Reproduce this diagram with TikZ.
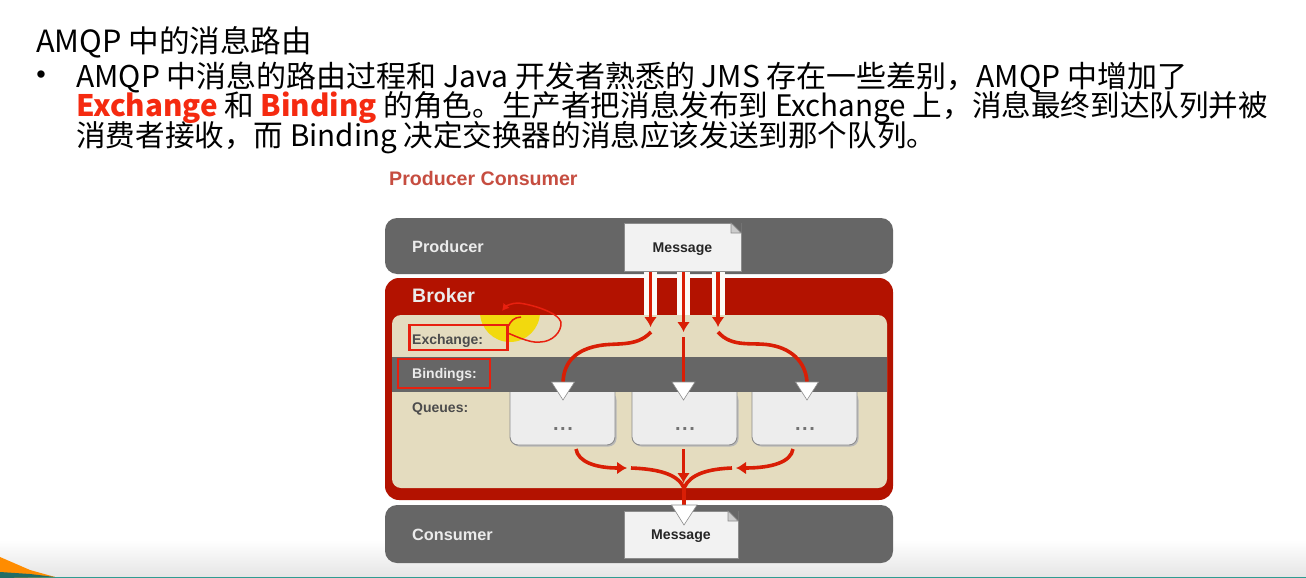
\documentclass[tikz,border=0pt]{standalone}
\usepackage{fontspec}
\usepackage{xcolor}
\setmainfont{Liberation Sans}
\newfontfamily\cjk{Noto Sans CJK SC}
\usetikzlibrary{arrows.meta,calc}
\definecolor{bandgrey}{HTML}{666666}
\definecolor{brokerred}{HTML}{B31200}
\definecolor{brokertan}{HTML}{E4DCBF}
\definecolor{flowred}{HTML}{D91E05}
\definecolor{notered}{HTML}{E8200F}
\definecolor{slidered}{HTML}{F52A10}
\definecolor{floorteal}{HTML}{2F9C92}
\begin{document}
\begin{tikzpicture}
    [x=1pt,y=-1pt,
    band/.style={fill=bandgrey,rounded corners=12pt,minimum width=508pt,minimum height=56pt,inner sep=0pt},
    bandtext/.style={anchor=west,text=white!92!black,font=\bfseries\fontsize{16.3}{18}\selectfont,inner sep=0pt},
    sidetext/.style={anchor=west,text=black!70,font=\bfseries\fontsize{14}{16}\selectfont,inner sep=0pt},
    msgbox/.style={fill=black!5,draw=black!45,line width=0.8pt,inner sep=0pt,text height=10pt,text depth=0pt,font=\bfseries\fontsize{14.1}{16}\selectfont,text=black!85},
    slideline/.style={anchor=west,inner sep=0pt,font=\cjk\fontsize{29.6}{32}\selectfont},
    flow/.style={draw=flowred,line width=3.6pt},
    flowcase/.style={draw=white!88!brokertan,line width=13pt},
    flowtip/.style={-{Latex[length=10pt,width=13pt]},flowred,line width=3.6pt},
    whitetip/.style={fill=white,draw=black!45,line width=0.6pt},
    queuebox/.style={fill=black!7,draw=black!45,line width=0.9pt,rounded corners=8pt},
    notebox/.style={draw=notered,line width=2.2pt},
    scribble/.style={draw=notered,line width=1.5pt,line join=round}]

\useasboundingbox (0,0) rectangle (1306,578);

%slide floor
\fill[white] (0,0) rectangle (1306,578);
\shade[top color=white,bottom color=black!10] (0,540) rectangle (1306,576.5);
\fill[floorteal] (0,576.5) rectangle (1306,578);
\fill[orange!90!yellow] (0,557) -- (30,570) -- (55,577) -- (0,578) -- cycle;
\fill[floorteal!70!black] (0,572) -- (30,574) -- (55,577) -- (0,578) -- cycle;

%slide text
\node[slideline,font=\cjk\fontsize{30.6}{32}\selectfont] (title) at (36,42) {AMQP 中的消息路由};
\node[anchor=center,inner sep=0pt,font=\fontsize{27}{28}\selectfont] (dot) at (41,77) {•};
\node[slideline,font=\cjk\fontsize{30}{32}\selectfont] (linea) at (76,77.5) {AMQP 中消息的路由过程和 Java 开发者熟悉的 JMS 存在一些差别，AMQP 中增加了};
\node[slideline] (lineb) at (76,108) {{\bfseries\color{slidered}Exchange} 和 {\bfseries\color{slidered}Binding} 的角色。生产者把消息发布到 Exchange 上，消息最终到达队列并被};
\node[slideline] (linec) at (76,138) {消费者接收，而 Binding 决定交换器的消息应该发送到那个队列。};
\node[anchor=west,inner sep=0pt,text=brokerred!75!white,font=\bfseries\fontsize{19.6}{22}\selectfont] (caption) at (389,178) {Producer Consumer};

%bands and broker
\node[band] (producer) at (639,246) {};
\node[band,minimum height=58pt] (consumer) at (639,534) {};
\node[fill=brokerred,rounded corners=14pt,minimum width=508pt,minimum height=222pt,inner sep=0pt] (broker) at (639,389) {};
\node[fill=brokertan,rounded corners=9pt,minimum width=495pt,minimum height=173pt,inner sep=0pt] (inner) at (639.5,401.5) {};

%yellow pointer
\begin{scope}
\clip (470,315) rectangle (550,350);
\fill[yellow!85!orange!95!black] (510,312) circle (30);
\end{scope}

\fill[bandgrey] (392,357) rectangle (887,392);

%queues
\foreach \x/\n in {510/qa,632/qb,752/qc}{
    \fill[black!28,rounded corners=8pt] (\x+1.5,392) -- (\x+1.5,446.5) -- (\x+106.5,446.5) -- (\x+106.5,392) -- cycle;
    \draw[queuebox] (\x,392) -- (\x,445) -- (\x+105,445) -- (\x+105,392);
    \node[inner sep=0pt,text=black!55,font=\bfseries\fontsize{20}{22}\selectfont] (\n) at (\x+53,429) {.\kern1.5pt.\kern1.5pt.};
}

%messages
\node[msgbox,minimum width=117pt,minimum height=48pt] (msgtop) at (682.5,247) {Message};
\fill[bandgrey] (741.5,222.5) -- (731,222.5) -- (741.5,233) -- cycle;
\draw[fill=black!20,draw=black!45,line width=0.6pt] (731,223) -- (731,233) -- (741,233) -- cycle;
\node[msgbox,minimum width=114pt,minimum height=47pt] (msgbot) at (681,534.5) {Message};
\fill[bandgrey] (738.5,510.5) -- (728,510.5) -- (738.5,521) -- cycle;
\draw[fill=black!20,draw=black!45,line width=0.6pt] (728,511) -- (728,521) -- (738,521) -- cycle;

%message flow into exchange
\coordinate (outa) at (650.5,272);
\coordinate (outb) at (683.5,272);
\coordinate (outc) at (718,272);
\coordinate (exa) at (650.5,327);
\coordinate (exb) at (683.5,332);
\coordinate (exc) at (718,327);
\coordinate (casea) at (650.5,315);
\coordinate (caseb) at (683.5,315);
\coordinate (casec) at (718,315);
\draw[flowcase] (outa) -- (casea);
\draw[flowcase] (outb) -- (caseb);
\draw[flowcase] (outc) -- (casec);
\draw[flowtip] (outa) -- (exa);
\draw[flowtip] (outb) -- (exb);
\draw[flowtip] (outc) -- (exc);

%exchange to queues
\coordinate (bia) at (563,384);
\coordinate (bib) at (683.5,384);
\coordinate (bic) at (807,384);
\draw[flow] (651,332) .. controls (636,348) and (615,342) .. (597,346) .. controls (572,351) and (563,366) .. (bia);
\draw[flow] (683.5,337) -- (bib);
\draw[flow] (718,332) .. controls (732,348) and (752,342) .. (770,345) .. controls (795,349) and (807,366) .. (bic);
\foreach \x in {563,683.5,807}
    \draw[whitetip] (\x-11.5,382) -- (\x+11.5,382) -- (\x,400) -- cycle;

%queues to consumer
\coordinate (hub) at (684,488);
\coordinate (qaout) at (576,449);
\coordinate (qbout) at (683.5,449);
\coordinate (qcout) at (793,449);
\coordinate (qatip) at (627,468);
\coordinate (qbtip) at (683.5,483);
\coordinate (qctip) at (736,468);
\draw[flowtip] (qaout) .. controls (578,462) and (596,468) .. (qatip);
\draw[flowtip] (qbout) -- (qbtip);
\draw[flowtip] (qcout) .. controls (791,462) and (772,468) .. (qctip);
\draw[flow] (631,468) .. controls (658,469) and (678,474) .. (hub);
\draw[flow] (732,468) .. controls (708,469) and (690,474) .. (hub);
\coordinate (bottip) at (684,510);
\draw[flow] (hub) -- (bottip);
\draw[whitetip] (671.5,505) -- (697,505) -- (684,525) -- cycle;

%labels
\node[bandtext] (producerlabel) at (412,247) {Producer};
\node[bandtext,font=\bfseries\fontsize{19.5}{22}\selectfont] (brokerlabel) at (412,296) {Broker};
\node[sidetext] (exchangelabel) at (412,340.5) {Exchange:};
\node[sidetext,text=white!92!black] (bindingslabel) at (412,374.5) {Bindings:};
\node[sidetext] (queueslabel) at (412,409) {Queues:};
\node[bandtext] (consumerlabel) at (412,534.5) {Consumer};

%red pen marks
\node[notebox,minimum width=98pt,minimum height=25pt,inner sep=0pt] (exchangemark) at (458.5,337.5) {};
\node[notebox,minimum width=92pt,minimum height=29pt,inner sep=0pt] (bindingsmark) at (444,373.5) {};
\draw[scribble,-{Latex[length=7pt,width=8pt]}] (exchangemark.east) ++(0,-4) .. controls (509,333) and (530,344) .. (540,342) .. controls (552,342) and (562,332) .. (561,322) .. controls (558,312) and (530,304) .. (518,303) .. controls (512,303) and (506,306) .. (502,311);
\draw[scribble] (exchangemark.north east) ++(0,2) .. controls (510,322) and (514,317) .. (521,317);

\end{tikzpicture}
\end{document}
